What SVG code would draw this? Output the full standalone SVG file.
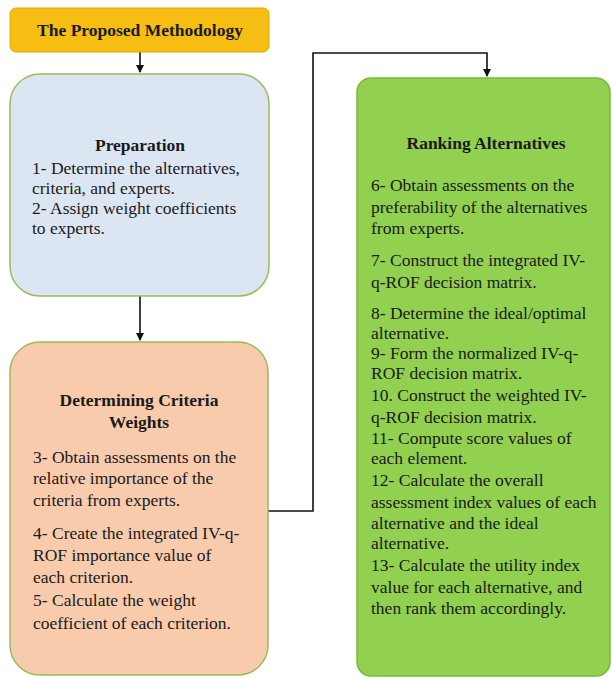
<svg xmlns="http://www.w3.org/2000/svg" width="612" height="678" viewBox="0 0 612 678">
<defs>
<marker id="arr" markerWidth="8" markerHeight="8" refX="7" refY="4" orient="auto" markerUnits="userSpaceOnUse">
<path d="M0,0 L8,4 L0,8 Z" fill="#111"/>
</marker>
<style>
.t{font-family:"Liberation Serif","Times New Roman",serif;font-size:17.5px;fill:#1a1a1a}
.b{font-weight:bold}
.c{stroke:#111;stroke-width:1.6;fill:none}
</style>
</defs>
<rect width="612" height="678" fill="#fff"/>
<g id="connectors">
<path class="c" d="M140,52 V72" marker-end="url(#arr)"/>
<path class="c" d="M140,296 V340" marker-end="url(#arr)"/>
<path class="c" d="M268,511 H313 V53 H487 V76" marker-end="url(#arr)"/>
</g>
<g id="title">
<rect x="10" y="8" width="259" height="44" rx="6" fill="#F6BE12" stroke="#E0A800" stroke-width="1"/>
<text class="t b" x="140" y="36" text-anchor="middle">The Proposed Methodology</text>
</g>
<g id="preparation">
<rect x="10" y="74" width="259" height="222" rx="30" fill="#DCE6F2" stroke="#9BBB59" stroke-width="1.5"/>
<text class="t b" x="140" y="151" text-anchor="middle">Preparation</text>
<text class="t" x="32" y="174">1- Determine the alternatives,</text>
<text class="t" x="32" y="194">criteria, and experts.</text>
<text class="t" x="32" y="214">2- Assign weight coefficients</text>
<text class="t" x="32" y="234">to experts.</text>
</g>
<g id="criteria">
<rect x="10" y="342" width="258" height="333" rx="30" fill="#F8CBAD" stroke="#9BBB59" stroke-width="1.5"/>
<text class="t b" x="139" y="406" text-anchor="middle">Determining Criteria</text>
<text class="t b" x="139" y="428" text-anchor="middle">Weights</text>
<text class="t" x="33" y="463">3- Obtain assessments on the</text>
<text class="t" x="33" y="484">relative importance of the</text>
<text class="t" x="33" y="506">criteria  from experts.</text>
<text class="t" x="33" y="539">4- Create the integrated IV-q-</text>
<text class="t" x="33" y="561">ROF importance value of</text>
<text class="t" x="33" y="583">each criterion.</text>
<text class="t" x="33" y="606">5- Calculate the weight</text>
<text class="t" x="33" y="629">coefficient of each criterion.</text>
</g>
<g id="ranking">
<rect x="357" y="78" width="253" height="598" rx="14" fill="#92D050" stroke="#7DB83E" stroke-width="1.5"/>
<text class="t b" x="486" y="149" text-anchor="middle">Ranking Alternatives</text>
<text class="t" x="371" y="191">6- Obtain assessments on the</text>
<text class="t" x="371" y="213">preferability of the alternatives</text>
<text class="t" x="371" y="234">from experts.</text>
<text class="t" x="371" y="266">7- Construct the integrated IV-</text>
<text class="t" x="371" y="288">q-ROF decision matrix.</text>
<text class="t" x="371" y="319">8- Determine the ideal/optimal</text>
<text class="t" x="371" y="339">alternative.</text>
<text class="t" x="371" y="359">9- Form the normalized IV-q-</text>
<text class="t" x="371" y="379">ROF decision matrix.</text>
<text class="t" x="371" y="401">10. Construct the weighted IV-</text>
<text class="t" x="371" y="423">q-ROF decision matrix.</text>
<text class="t" x="371" y="444">11- Compute score values of</text>
<text class="t" x="371" y="464">each element.</text>
<text class="t" x="371" y="486">12- Calculate the overall</text>
<text class="t" x="371" y="508">assessment index values of each</text>
<text class="t" x="371" y="529">alternative and the ideal</text>
<text class="t" x="371" y="549">alternative.</text>
<text class="t" x="371" y="571">13- Calculate the utility index</text>
<text class="t" x="371" y="593">value for each alternative, and</text>
<text class="t" x="371" y="614">then rank them accordingly.</text>
</g>
</svg>
